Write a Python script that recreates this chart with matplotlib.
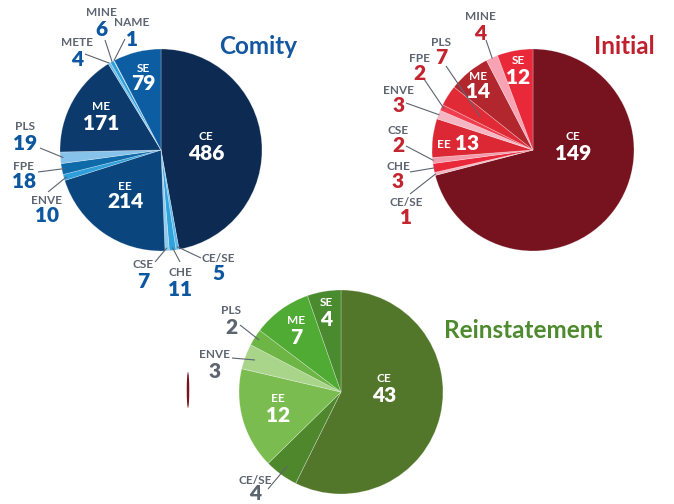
import matplotlib.pyplot as plt
import numpy as np
from matplotlib.patches import Ellipse

plt.rcParams['font.family'] = ['Lato', 'DejaVu Sans']

# ---------------- data ----------------
comity_labels = ["CE", "CE/SE", "CHE", "CSE", "EE", "ENVE", "FPE", "PLS", "ME", "METE", "MINE", "NAME", "SE"]
comity_values = [486, 5, 11, 7, 214, 10, 18, 19, 171, 4, 6, 1, 79]

initial_labels = ["CE", "CE/SE", "CHE", "CSE", "EE", "ENVE", "FPE", "PLS", "ME", "MINE", "SE"]
initial_values = [149, 1, 3, 2, 13, 3, 2, 7, 14, 4, 12]

reinst_labels = ["CE", "CE/SE", "EE", "ENVE", "PLS", "ME", "SE"]
reinst_values = [43, 4, 12, 3, 2, 7, 4]

# ---------------- styles ----------------
comity_colors = ['#0c2a52', '#5cb8ea', '#2fa3de', '#8fcbef', '#0a457e', '#2f9fdc', '#0e6aa8',
                 '#86c2ea', '#0c3a6c', '#6cbde9', '#2f9fdc', '#a5d4f2', '#0d5da3']
initial_colors = ['#77121f', '#f4b6c2', '#e9283a', '#f49aaa', '#dc2834', '#f6b5c3', '#f03c4c',
                  '#e02a36', '#b2262e', '#f8a3b3', '#e9283a']
reinst_colors = ['#52772b', '#4f872d', '#7abc4f', '#a9d58b', '#6db544', '#50ab34', '#4a8b2f']

GRAY = '#5d6570'
W, H = 674, 504
NUMW = 'heavy'

fig = plt.figure(figsize=(6.74, 5.04), dpi=100)
ax = fig.add_axes([0, 0, 1, 1])


def P(x, y):
    return (x, H - y)


def draw_pie(values, colors, cx, cy, r):
    wedges, _ = ax.pie(values, colors=colors, startangle=90, counterclock=False,
                       center=P(cx, cy), radius=r,
                       wedgeprops=dict(edgecolor=(1, 1, 1, 0.35), linewidth=0.5))
    return wedges


def edge_point(wedge, frac=0.97):
    a = np.deg2rad((wedge.theta1 + wedge.theta2) / 2)
    cx, cy = wedge.center
    return cx + wedge.r * frac * np.cos(a), cy + wedge.r * frac * np.sin(a)


def inner(name, value, x, y_name, y_num, name_size=8.5, num_size=15):
    ax.text(*P(x, y_name), name, color='white', fontsize=name_size, fontweight='bold',
            ha='center', va='center')
    ax.text(*P(x, y_num), str(value), color='white', fontsize=num_size, fontweight=NUMW,
            ha='center', va='center')


def outer(wedge, name, value, x, y_name, y_num, start, numcolor, frac=0.97):
    ax.text(*P(x, y_name), name, color=GRAY, fontsize=8.5, fontweight='bold',
            ha='center', va='center')
    ax.text(*P(x, y_num), str(value), color=numcolor, fontsize=15, fontweight=NUMW,
            ha='center', va='center')
    ex, ey = edge_point(wedge, frac)
    sx, sy = P(*start)
    ax.plot([sx, ex], [sy, ey], color=GRAY, lw=0.8, solid_capstyle='butt')


# ---------------- Comity ----------------
cw = draw_pie(comity_values, comity_colors, 161, 150, 101)
cmap = dict(zip(comity_labels, cw))
cval = dict(zip(comity_labels, comity_values))
BLUE = '#0d57a1'
inner("CE", cval["CE"], 206, 137, 154)
inner("EE", cval["EE"], 125, 186, 202)
inner("ME", cval["ME"], 101, 107, 123)
inner("SE", cval["SE"], 143, 68, 84)
outer(cmap["MINE"], "MINE", cval["MINE"], 101, 13, 30, (105, 40), BLUE, 1.0)
outer(cmap["NAME"], "NAME", cval["NAME"], 132, 22, 40, (125, 39), BLUE, 1.0)
outer(cmap["METE"], "METE", cval["METE"], 77, 43, 59, (85, 54), BLUE, 1.0)
outer(cmap["PLS"], "PLS", cval["PLS"], 25, 127, 143, (40, 148), BLUE)
outer(cmap["FPE"], "FPE", cval["FPE"], 24, 167, 182, (38, 172), BLUE)
outer(cmap["ENVE"], "ENVE", cval["ENVE"], 47, 200, 215, (48, 192), BLUE)
outer(cmap["CSE"], "CSE", cval["CSE"], 143, 265, 281, (155, 262), BLUE)
outer(cmap["CHE"], "CHE", cval["CHE"], 180, 273, 289, (180, 262), BLUE)
outer(cmap["CE/SE"], "CE/SE", cval["CE/SE"], 218, 258, 274, (201, 258), BLUE)
ax.text(*P(258, 47), "Comity", color='#1457a0', fontsize=17.5, fontweight='bold',
        ha='center', va='center')

# ---------------- Initial ----------------
iw = draw_pie(initial_values, initial_colors, 533, 150, 101)
imap = dict(zip(initial_labels, iw))
ival = dict(zip(initial_labels, initial_values))
RED = '#c22530'
inner("CE", ival["CE"], 573, 137, 154)
inner("ME", ival["ME"], 478, 76, 92)
inner("SE", ival["SE"], 518, 61, 77)
ax.text(*P(444, 145), "EE", color='white', fontsize=8.5, fontweight='bold', ha='center', va='center')
ax.text(*P(467, 143), str(ival["EE"]), color='white', fontsize=15, fontweight=NUMW,
        ha='center', va='center')
outer(imap["MINE"], "MINE", ival["MINE"], 480, 17, 34, (486, 40), RED, 0.99)
outer(imap["PLS"], "PLS", ival["PLS"], 441, 42, 58, (446, 66), RED, 0.62)
outer(imap["FPE"], "FPE", ival["FPE"], 419, 58, 74, (424, 79), RED, 0.97)
outer(imap["ENVE"], "ENVE", ival["ENVE"], 399, 90, 105, (406, 103), RED, 0.99)
outer(imap["CSE"], "CSE", ival["CSE"], 398, 130, 145, (406, 146), RED, 0.99)
outer(imap["CHE"], "CHE", ival["CHE"], 398, 166, 182, (410, 172), RED, 0.99)
outer(imap["CE/SE"], "CE/SE", ival["CE/SE"], 406, 202, 217, (410, 194), RED, 0.99)
ax.text(*P(624, 47), "Initial", color='#c0202e', fontsize=17.5, fontweight='bold',
        ha='center', va='center')

# ---------------- Reinstatement ----------------
rw = draw_pie(reinst_values, reinst_colors, 341, 392, 102)
rmap = dict(zip(reinst_labels, rw))
rval = dict(zip(reinst_labels, reinst_values))
inner("CE", rval["CE"], 384, 379, 396)
inner("EE", rval["EE"], 278, 399, 415)
inner("ME", rval["ME"], 296, 320, 337)
inner("SE", rval["SE"], 326, 303, 320)
outer(rmap["PLS"], "PLS", rval["PLS"], 231, 310, 327, (240, 325), GRAY, 0.95)
outer(rmap["ENVE"], "ENVE", rval["ENVE"], 215, 354, 371, (232, 358), GRAY, 0.9)
outer(rmap["CE/SE"], "CE/SE", rval["CE/SE"], 255, 480, 494, (268, 489), GRAY, 0.9)
ax.text(*P(523, 331), "Reinstatement", color='#4e8a2e', fontsize=17.5, fontweight='bold',
        ha='center', va='center')

# small stray sliver
ax.add_patch(Ellipse(P(188, 390), 2.5, 36, color='#7a111e', lw=0))

ax.set_xlim(0, W)
ax.set_ylim(0, H)
ax.set_aspect('equal')
ax.axis('off')
fig.savefig('out.png', dpi=100)
